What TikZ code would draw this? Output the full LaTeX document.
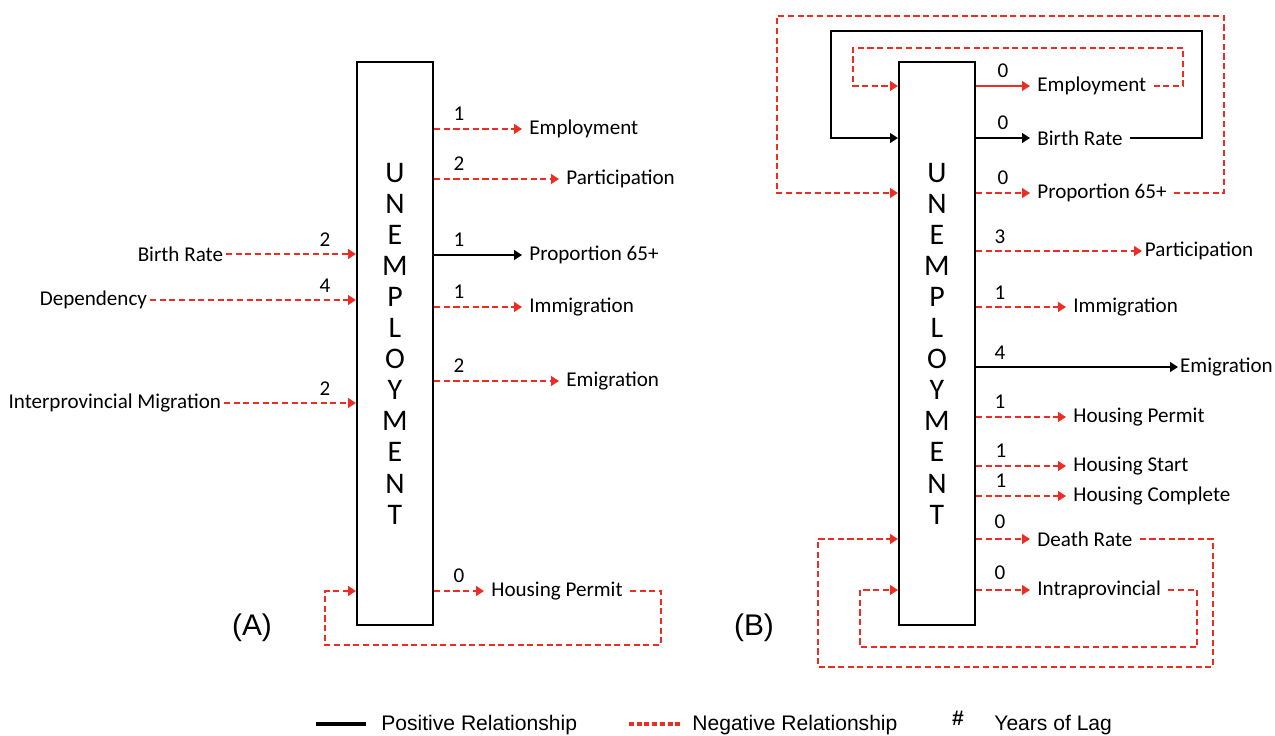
\documentclass[tikz,border=0pt]{standalone}
\usepackage{fontspec}
\setmainfont{Carlito}
\newfontfamily\legendfont{Liberation Sans}
\usetikzlibrary{arrows.meta}
\definecolor{negred}{RGB}{235,45,35}

\begin{document}
\begin{tikzpicture}[x=0.02cm,y=-0.02cm]

%
% Styles
%
\tikzstyle{ubox}     = [draw,line width=1.2pt,minimum width=1.52cm,minimum height=11.26cm,align=center,font=\fontsize{17}{17.7}\selectfont]
\tikzstyle{vartext}  = [anchor=west,inner sep=4pt,font=\fontsize{12}{14}\selectfont]
\tikzstyle{vartextl} = [anchor=east,inner sep=1.5pt,font=\fontsize{12}{14}\selectfont]
\tikzstyle{lagnum}   = [inner sep=1pt,font=\fontsize{12}{14}\selectfont]
\tikzstyle{legtext}  = [anchor=west,inner sep=0pt,font=\legendfont\fontsize{12}{14}\selectfont]
\tikzstyle{panel}    = [inner sep=0pt,font=\legendfont\fontsize{17}{20}\selectfont]
\tikzstyle{posedge}  = [-{Triangle[length=4.5pt,width=5.5pt]},line width=1.1pt]
\tikzstyle{negsolid} = [-{Triangle[length=4.5pt,width=5.5pt]},line width=1.3pt,color=negred]
\tikzstyle{negedge}  = [negsolid,dash pattern=on 3.5pt off 2pt]

\useasboundingbox (0,0) rectangle (1275,735);

%
% Panel (A)
%
\node[ubox] (boxA) at (395,343.5) {U\\N\\E\\M\\P\\L\\O\\Y\\M\\E\\N\\T};
\node[panel] (labA) at (252,628) {(A)};

\node[vartext] (empA)  at (522,129) {Employment};
\node[vartext] (partA) at (559,179) {Participation};
\node[vartext] (p65A)  at (522,255) {Proportion 65+};
\node[vartext] (immA)  at (522,307) {Immigration};
\node[vartext] (emiA)  at (559,381) {Emigration};
\node[vartext] (hpA)   at (484,591) {Housing Permit};

\node[vartextl] (brA)  at (226,254) {Birth Rate};
\node[vartextl] (depA) at (150,300) {Dependency};
\node[vartextl] (ipmA) at (224,403) {Interprovincial Migration};

\node[lagnum] (lagA1) at (459,114) {1};
\node[lagnum] (lagA2) at (459,164) {2};
\node[lagnum] (lagA3) at (459,240) {1};
\node[lagnum] (lagA4) at (459,292) {1};
\node[lagnum] (lagA5) at (459,366) {2};
\node[lagnum] (lagA6) at (459,576) {0};
\node[lagnum] (lagA7) at (325,240) {2};
\node[lagnum] (lagA8) at (325,286) {4};
\node[lagnum] (lagA9) at (325,389) {2};

\draw[negedge] (boxA.east |- empA.west)  -- (empA.west);
\draw[negedge] (boxA.east |- partA.west) -- (partA.west);
\draw[posedge] (boxA.east |- p65A.west)  -- (p65A.west);
\draw[negedge] (boxA.east |- immA.west)  -- (immA.west);
\draw[negedge] (boxA.east |- emiA.west)  -- (emiA.west);
\draw[negedge] (boxA.east |- hpA.west)   -- (hpA.west);

\draw[negedge] (brA.east)  -- (boxA.west |- brA.east);
\draw[negedge] (depA.east) -- (boxA.west |- depA.east);
\draw[negedge] (ipmA.east) -- (boxA.west |- ipmA.east);

% feedback loop
\draw[negedge] (hpA.east) -| (661,645) -| (325,591) -- (boxA.west |- hpA.east);

%
% Panel (B)
%
\node[ubox] (boxB) at (937,343.5) {U\\N\\E\\M\\P\\L\\O\\Y\\M\\E\\N\\T};
\node[panel] (labB) at (754,628) {(B)};

\node[vartext] (empB)   at (1030,86)  {Employment};
\node[vartext] (brB)    at (1030,138) {Birth Rate};
\node[vartext] (p65B)   at (1030,193) {Proportion 65+};
\node[vartext,inner sep=1.5pt] (partB) at (1142,251) {Participation};
\node[vartext] (immB)   at (1066,307) {Immigration};
\node[vartext,inner sep=1pt] (emiB) at (1178,367) {Emigration};
\node[vartext] (hpB)    at (1066,417) {Housing Permit};
\node[vartext] (hsB)    at (1066,466) {Housing Start};
\node[vartext] (hcB)    at (1066,496) {Housing Complete};
\node[vartext] (drB)    at (1030,539) {Death Rate};
\node[vartext] (intraB) at (1030,590) {Intraprovincial};

\node[lagnum] (lagB1)  at (1003,71)  {0};
\node[lagnum] (lagB2)  at (1003,123) {0};
\node[lagnum] (lagB3)  at (1003,178) {0};
\node[lagnum] (lagB4)  at (1000,237) {3};
\node[lagnum] (lagB5)  at (1000,293) {1};
\node[lagnum] (lagB6)  at (1000,353) {4};
\node[lagnum] (lagB7)  at (1000,402) {1};
\node[lagnum] (lagB8)  at (1001,451) {1};
\node[lagnum] (lagB9)  at (1001,481) {1};
\node[lagnum] (lagB10) at (1000,522) {0};
\node[lagnum] (lagB11) at (1000,573) {0};

\draw[negsolid] (boxB.east |- empB.west)   -- (empB.west);
\draw[posedge]  (boxB.east |- brB.west)    -- (brB.west);
\draw[negedge]  (boxB.east |- p65B.west)   -- (p65B.west);
\draw[negedge]  (boxB.east |- partB.west)  -- (partB.west);
\draw[negedge]  (boxB.east |- immB.west)   -- (immB.west);
\draw[posedge]  (boxB.east |- emiB.west)   -- (emiB.west);
\draw[negedge]  (boxB.east |- hpB.west)    -- (hpB.west);
\draw[negedge]  (boxB.east |- hsB.west)    -- (hsB.west);
\draw[negedge]  (boxB.east |- hcB.west)    -- (hcB.west);
\draw[negedge]  (boxB.east |- drB.west)    -- (drB.west);
\draw[negedge]  (boxB.east |- intraB.west) -- (intraB.west);

% feedback loops
\draw[negedge] (empB.east)   -| (1183,48)  -| (853,86)  -- (boxB.west |- empB.east);
\draw[posedge] (brB.east)    -| (1202,31)  -| (831,138) -- (boxB.west |- brB.east);
\draw[negedge] (p65B.east)   -| (1224,16)  -| (777,193) -- (boxB.west |- p65B.east);
\draw[negedge] (drB.east)    -| (1213,667) -| (818,539) -- (boxB.west |- drB.east);
\draw[negedge] (intraB.east) -| (1197,647) -| (860,590) -- (boxB.west |- intraB.east);

%
% Legend
%
\coordinate (posS) at (316,724);
\coordinate (posE) at (366,724);
\coordinate (negS) at (629,724);
\coordinate (negE) at (680,724);
\draw[line width=2.8pt] (posS) -- (posE);
\draw[negred,line width=2.8pt,dash pattern=on 2.8pt off 1.6pt] (negS) -- (negE);
\node[legtext] (posL) at (381,725) {Positive Relationship};
\node[legtext] (negL) at (692,725) {Negative Relationship};
\node[inner sep=0pt,font=\legendfont\bfseries\fontsize{12}{14}\selectfont] (hashL) at (958,718) {\#};
\node[legtext] (lagL) at (994,725) {Years of Lag};

\end{tikzpicture}
\end{document}
